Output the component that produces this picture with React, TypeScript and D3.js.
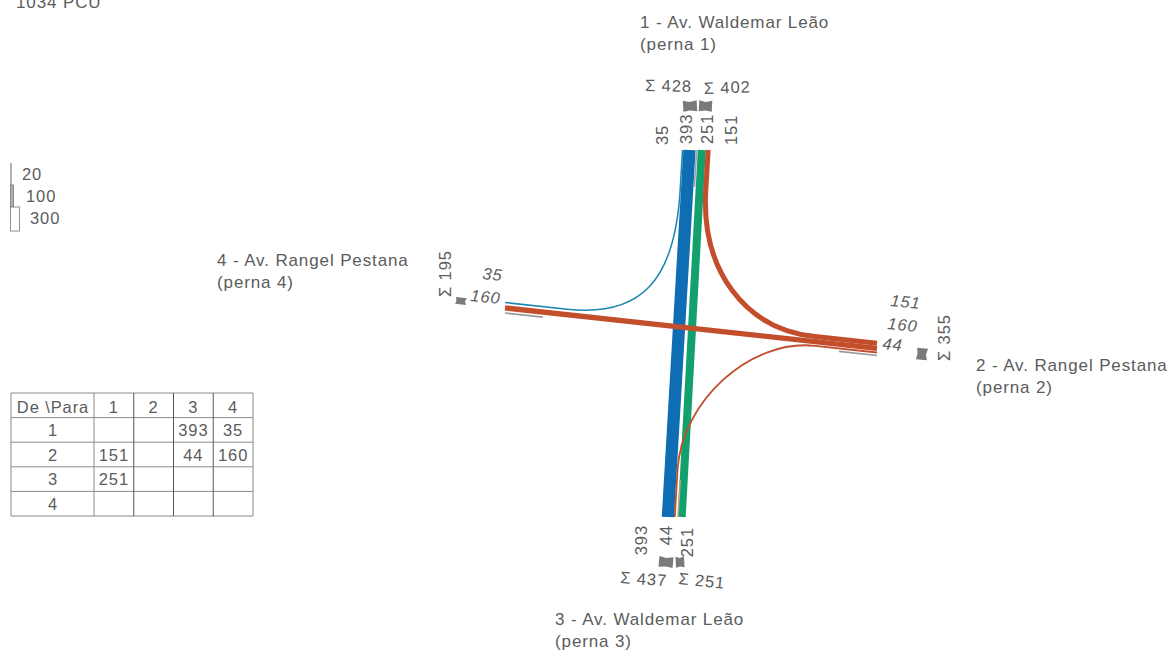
import React from 'react';
import * as d3 from 'd3';

const legIds = [1, 2, 3, 4];
const matrix = [
  [null, null, 393, 35],
  [151, null, 44, 160],
  [251, null, null, null],
  [null, null, null, null],
];
const legendValues = [20, 100, 300];
const flowColors = { '1-3': '#0f6db4', '1-4': '#1f86ad', '2-1': '#c24e2b', '2-3': '#c24e2b', '2-4': '#c24e2b', '3-1': '#12a06c' };
const drawOrder = ['1-4', '1-3', '3-1', '2-3', '2-1', '2-4'];

// how the flows sit side by side at the end of each leg: [flow, gap before it]
const legs = {
  1: { origin: [682, 150], across: [1, 0], along: [-0.059, 1], slots: [['1-4', 0], ['1-3', 0.5], ['3-1', 2.7], ['2-1', 0.3]] },
  2: { origin: [877, 341], across: [0, 1], along: [-1, -0.1075], slots: [['2-1', 0], ['2-4', 0.5], ['2-3', 1]] },
  3: { origin: [662, 517], across: [1, 0], along: [0.059, -1], slots: [['1-3', 0], ['2-3', 0.3], ['3-1', 2.5]] },
  4: { origin: [505, 302], across: [0, 1], along: [1, 0.1075], slots: [['1-4', 0], ['2-4', 2.5]] },
};
const turns = [
  { key: '1-4', runFrom: 40, runTo: 62, k: 0.7 },
  { key: '2-1', runFrom: 62, runTo: 40, k: 0.6 },
  { key: '2-3', runFrom: 62, runTo: 47, k: 0.5 },
];
// thin grey stubs beside the flows at the end of the legs
const stubs = [
  { leg: 1, at: 14.6, length: 37, color: '#9aa5ad' },
  { leg: 2, at: 14.5, length: 38, color: '#999' },
  { leg: 3, at: 16, length: 37, color: '#b5a58f' },
  { leg: 4, at: 11, length: 38, color: '#999' },
];

const width = d3.scaleLinear().domain([0, 300]).range([0, 9]);

const flows = matrix.flatMap((row, i) =>
  row.flatMap((value, j) => (value == null ? [] : [{ key: `${legIds[i]}-${legIds[j]}`, from: legIds[i], to: legIds[j], value }])));
const valueOf = (key) => flows.find((f) => f.key === key).value;
const total = d3.sum(flows, (f) => f.value);
const sumOut = (leg) => d3.sum(flows.filter((f) => f.from === leg), (f) => f.value);
const sumIn = (leg) => d3.sum(flows.filter((f) => f.to === leg), (f) => f.value);

function slotPoint(leg, key) {
  const l = legs[leg];
  let pos = 0;
  for (const [k, gap] of l.slots) {
    const w = width(valueOf(k));
    pos += gap;
    if (k === key) {
      pos += w / 2;
      break;
    }
    pos += w;
  }
  return [l.origin[0] + l.across[0] * pos, l.origin[1] + l.across[1] * pos];
}

function crossing(p, u, q, v) {
  const t = ((q[0] - p[0]) * v[1] - (q[1] - p[1]) * v[0]) / (u[0] * v[1] - u[1] * v[0]);
  return [p[0] + u[0] * t, p[1] + u[1] * t];
}

function flowPath(f) {
  const a = slotPoint(f.from, f.key);
  const b = slotPoint(f.to, f.key);
  const p = d3.path();
  p.moveTo(a[0], a[1]);
  const turn = turns.find((t) => t.key === f.key);
  if (!turn) {
    p.lineTo(b[0], b[1]);
    return p.toString();
  }
  const ua = legs[f.from].along;
  const ub = legs[f.to].along;
  const p0 = [a[0] + ua[0] * turn.runFrom, a[1] + ua[1] * turn.runFrom];
  const p3 = [b[0] + ub[0] * turn.runTo, b[1] + ub[1] * turn.runTo];
  const x = crossing(a, ua, b, ub);
  p.lineTo(p0[0], p0[1]);
  p.bezierCurveTo(
    p0[0] + (x[0] - p0[0]) * turn.k, p0[1] + (x[1] - p0[1]) * turn.k,
    p3[0] + (x[0] - p3[0]) * turn.k, p3[1] + (x[1] - p3[1]) * turn.k,
    p3[0], p3[1],
  );
  p.lineTo(b[0], b[1]);
  return p.toString();
}

// little grey block with a shallow notch, as wide as the leg total
function markerPath(w) {
  const p = d3.path();
  p.moveTo(-w / 2, -5.5);
  p.lineTo(0, -4);
  p.lineTo(w / 2, -5.5);
  p.lineTo(w / 2, 5.5);
  p.lineTo(0, 4.5);
  p.lineTo(-w / 2, 5.5);
  p.closePath();
  return p.toString();
}

const textStyle = { fontFamily: '"Liberation Sans", Arial, sans-serif', fontSize: 16.5, letterSpacing: 0.9, fill: '#5c5c5c' };
const streetStyle = { ...textStyle, fontSize: 17, letterSpacing: 0.88 };

const streetLabels = [
  { x: 640, y: 28, lines: ['1 - Av. Waldemar Leão', '(perna 1)'] },
  { x: 976, y: 371, lines: ['2 - Av. Rangel Pestana', '(perna 2)'] },
  { x: 555, y: 625, lines: ['3 - Av. Waldemar Leão', '(perna 3)'] },
  { x: 217, y: 266, lines: ['4 - Av. Rangel Pestana', '(perna 4)'] },
];

const flowLabels = [
  { key: '1-4', x: 668, y: 145, rotate: -90, anchor: 'start' },
  { key: '1-3', x: 692, y: 144, rotate: -90, anchor: 'start' },
  { key: '3-1', x: 713, y: 144, rotate: -90, anchor: 'start' },
  { key: '2-1', x: 737, y: 145, rotate: -90, anchor: 'start' },
  { key: '2-1', x: 890, y: 306, rotate: 6, anchor: 'start', italic: true },
  { key: '2-4', x: 887, y: 329, rotate: 6, anchor: 'start', italic: true },
  { key: '2-3', x: 882, y: 349, rotate: 6, anchor: 'start', italic: true },
  { key: '1-3', x: 647, y: 525, rotate: -90, anchor: 'end' },
  { key: '2-3', x: 672, y: 525, rotate: -90, anchor: 'end' },
  { key: '3-1', x: 693, y: 527, rotate: -90, anchor: 'end' },
  { key: '1-4', x: 482, y: 279, rotate: 6, anchor: 'start', italic: true },
  { key: '2-4', x: 470, y: 301, rotate: 6, anchor: 'start', italic: true },
];

const sumLabels = [
  { value: sumOut(1), x: 645, y: 91, rotate: 1 },
  { value: sumIn(1), x: 704, y: 94, rotate: -2 },
  { value: sumOut(2), x: 950, y: 361, rotate: -90 },
  { value: sumIn(3), x: 620, y: 583, rotate: 4 },
  { value: sumOut(3), x: 678, y: 584, rotate: 6 },
  { value: sumIn(4), x: 451, y: 297, rotate: -90 },
];

const markers = [
  { value: sumOut(1), x: 690, y: 106, rotate: -3 },
  { value: sumIn(1), x: 705.5, y: 106, rotate: 3 },
  { value: sumOut(2), x: 922, y: 354, rotate: 96 },
  { value: sumIn(3), x: 666, y: 562, rotate: 5 },
  { value: sumOut(3), x: 680, y: 562, rotate: -3 },
  { value: sumIn(4), x: 461, y: 301, rotate: 96 },
];

const firstColRight = 94;
const tableLeft = 11;
const colX = d3.scaleLinear().domain([0, legIds.length]).range([firstColRight, 253]);
const rowY = d3.scaleLinear().domain([0, legIds.length + 1]).range([393, 516]);

function App() {
  let legendY = 163;
  return (
    <svg width={1176} height={651} style={{ position: 'absolute', left: 0, top: 0, display: 'block', background: '#fff' }}>
      <text {...streetStyle} x={16} y={8}>{`${total} PCU`}</text>

      {/* legenda */}
      {legendValues.map((v, i) => {
        const w = Math.max(width(v), 1);
        const y = legendY;
        const h = i === 2 ? 24 : 22;
        legendY += h;
        return (
          <g key={v}>
            <rect x={10.5} y={y} width={w} height={h} fill={['#666', '#b0b0b0', '#fff'][i]} stroke="#777" strokeWidth={i === 0 ? 0 : 0.8} />
            <text {...textStyle} x={22 + i * 4 - (i === 2 ? 2 : 0) + (i === 2 ? 2 : 0)} y={y + 17}>{v}</text>
          </g>
        );
      })}

      {/* tabela De \ Para */}
      <g stroke="#8a8a8a" strokeWidth={1}>
        {d3.range(legIds.length + 2).map((i) => (
          <line key={i} x1={tableLeft} x2={253} y1={rowY(i)} y2={rowY(i)} />
        ))}
        <line x1={tableLeft} x2={tableLeft} y1={393} y2={516} />
        {d3.range(legIds.length + 1).map((i) => (
          <line key={i} x1={colX(i)} x2={colX(i)} y1={393} y2={516} stroke={i > 0 && i < 4 ? '#555' : '#8a8a8a'} />
        ))}
      </g>
      <text {...textStyle} x={(tableLeft + firstColRight) / 2 + 0.5} y={rowY(0) + 19.5} textAnchor="middle">De \Para</text>
      {legIds.map((id, i) => (
        <g key={id}>
          <text {...textStyle} x={colX(i + 0.5)} y={rowY(0) + 19.5} textAnchor="middle">{id}</text>
          <text {...textStyle} x={(tableLeft + firstColRight) / 2 + 0.5} y={rowY(i + 1) + 18.5} textAnchor="middle">{id}</text>
          {matrix[i].map((v, j) => v != null && (
            <text key={j} {...textStyle} x={colX(j + 0.5)} y={rowY(i + 1) + 18.5} textAnchor="middle">{v}</text>
          ))}
        </g>
      ))}

      {/* fluxos */}
      {drawOrder.map((key) => {
        const f = flows.find((d) => d.key === key);
        return (
          <path key={key} d={flowPath(f)} fill="none" stroke={flowColors[key]} strokeWidth={width(f.value) + 0.5} />
        );
      })}
      {stubs.map((s) => {
        const l = legs[s.leg];
        const x = l.origin[0] + l.across[0] * s.at;
        const y = l.origin[1] + l.across[1] * s.at;
        return (
          <line key={s.leg} x1={x} y1={y} x2={x + l.along[0] * s.length} y2={y + l.along[1] * s.length} stroke={s.color} strokeWidth={1.6} />
        );
      })}

      {markers.map((m, i) => (
        <path key={i} d={markerPath(width(m.value) + 1)} fill="#7a7a7a" transform={`translate(${m.x},${m.y}) rotate(${m.rotate})`} />
      ))}

      {flowLabels.map((d, i) => (
        <text key={i} {...textStyle} fontStyle={d.italic ? 'italic' : 'normal'} textAnchor={d.anchor} transform={`translate(${d.x},${d.y}) rotate(${d.rotate})`}>
          {valueOf(d.key)}
        </text>
      ))}
      {sumLabels.map((d, i) => (
        <text key={i} {...textStyle} transform={`translate(${d.x},${d.y}) rotate(${d.rotate})`}>
          {`Σ ${d.value}`}
        </text>
      ))}

      {streetLabels.map((d) => (
        <g key={d.lines[0]}>
          <text {...streetStyle} x={d.x} y={d.y}>{d.lines[0]}</text>
          <text {...streetStyle} x={d.x} y={d.y + 22}>{d.lines[1]}</text>
        </g>
      ))}
    </svg>
  );
}

export default App;
